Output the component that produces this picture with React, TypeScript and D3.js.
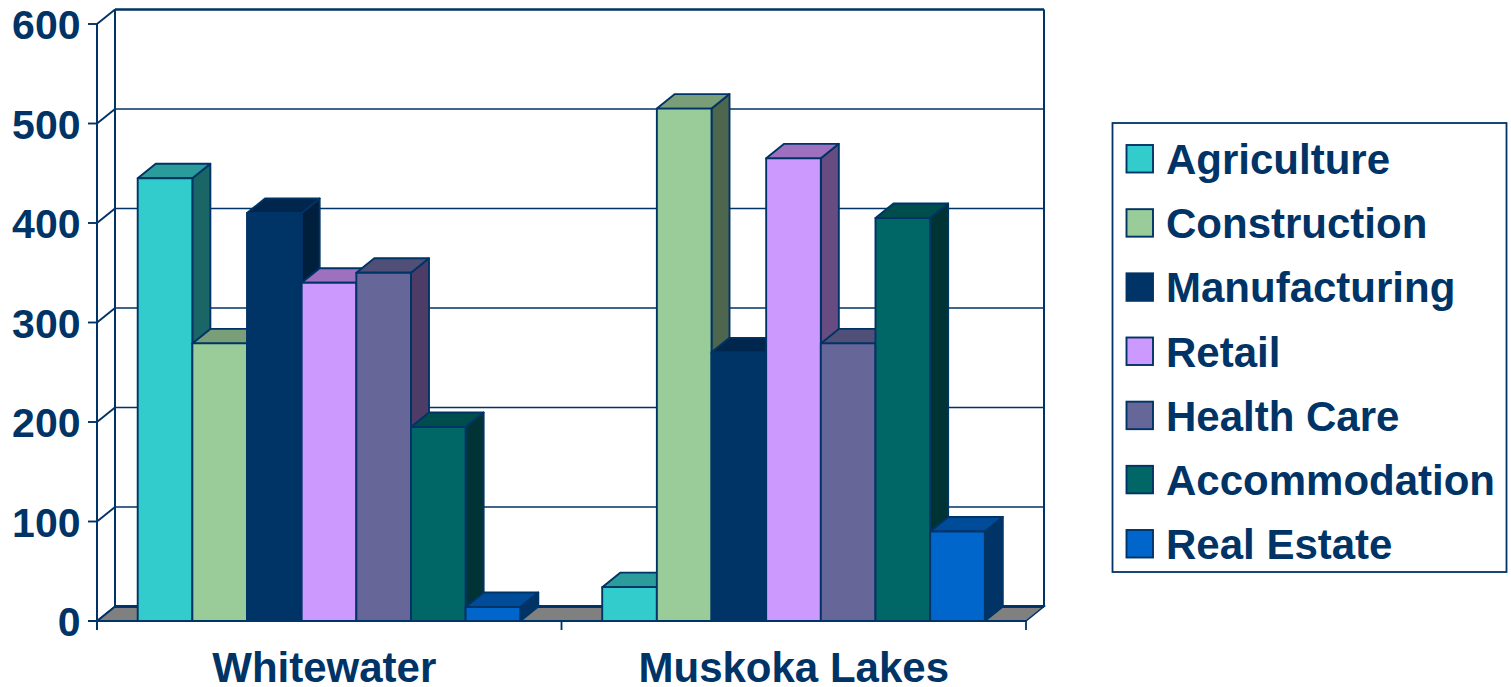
import React from "react";
import * as d3 from "d3";

const categories = ["Whitewater", "Muskoka Lakes"];
const seriesNames = ["Agriculture", "Construction", "Manufacturing", "Retail", "Health Care", "Accommodation", "Real Estate"];
const whitewater = [445, 279, 410, 340, 350, 195, 14];
const muskoka = [34, 515, 270, 465, 279, 405, 90];
const tickValues = [0, 100, 200, 300, 400, 500, 600];
const frontColors = ["#33CCCC", "#99CC99", "#003366", "#CC99FF", "#666699", "#006666", "#0066CC"];
const topColors = ["#2A9C9C", "#7A9F78", "#00264D", "#9E70C0", "#4F4F78", "#004D4D", "#004C99"];
const sideColors = ["#1A6666", "#4D664D", "#001F3D", "#664C80", "#4D3D66", "#003333", "#003366"];

const INK = "#003366";
const FONT = "'Liberation Sans', Arial, sans-serif";
const dx = 18;
const dy = -14.5;

const x0 = d3.scaleBand<string>().domain(categories).range([97, 1026]).paddingInner(0).paddingOuter(0);
const y = d3.scaleLinear().domain([0, 600]).range([621, 24]);
const inner = d3.scaleBand<string>().domain(seriesNames).range([40.7, 464.5 - 41.2]);

const poly = (pts: [number, number][]) => pts.map((p) => p.join(",")).join(" ");

export default function App() {
  const rows = [whitewater, muskoka];
  const base = y(0);
  const left = x0.range()[0];
  const right = x0.range()[1];
  const legendY = d3.scalePoint<string>().domain(seriesNames).range([159, 544]);
  return (
    <svg width={1511} height={687} style={{ position: "absolute", left: 0, top: 0, display: "block", background: "#fff" }} fontFamily={FONT}>
      {/* floor */}
      <polygon points={poly([[left, base], [left + dx, base + dy], [right + dx, base + dy], [right, base]])} fill="#808080" stroke={INK} strokeWidth={1.5} />
      {/* back wall */}
      {tickValues.map((t) => (
        <g key={t} stroke={INK} fill="none">
          {t > 0 && t < 600 && <line x1={left + dx} x2={right + dx} y1={y(t) + dy} y2={y(t) + dy} strokeWidth={1.7} />}
          <line x1={left} y1={y(t)} x2={left + dx} y2={y(t) + dy} strokeWidth={1.9} />
          <line x1={left - 9} x2={left} y1={y(t)} y2={y(t)} strokeWidth={1.9} />
        </g>
      ))}
      <line x1={left + dx} x2={right + dx} y1={y(600) + dy} y2={y(600) + dy} stroke={INK} strokeWidth={2.4} />
      <line x1={left + dx} x2={right + dx} y1={base + dy} y2={base + dy} stroke={INK} strokeWidth={3} />
      <line x1={left + dx} x2={left + dx} y1={y(600) + dy} y2={base + dy} stroke={INK} strokeWidth={2} />
      <line x1={right + dx} x2={right + dx} y1={y(600) + dy} y2={base + dy} stroke={INK} strokeWidth={2} />
      <line x1={left} x2={left} y1={y(600)} y2={base + 9} stroke={INK} strokeWidth={2} />
      <line x1={left - 9} x2={right} y1={base} y2={base} stroke={INK} strokeWidth={2} />
      {[left, left + x0.bandwidth(), right].map((v, i) => (
        <line key={i} x1={v} x2={v} y1={base} y2={base + 9} stroke={INK} strokeWidth={1.8} />
      ))}
      {/* bars */}
      {categories.map((c, ci) =>
        seriesNames.map((s, si) => {
          const xa = (x0(c) as number) + (inner(s) as number);
          const xb = xa + inner.bandwidth();
          const yt = y(rows[ci][si]);
          return (
            <g key={c + s} stroke={INK} strokeWidth={1.9} strokeLinejoin="round">
              <polygon points={poly([[xb, yt], [xb + dx, yt + dy], [xb + dx, base + dy], [xb, base]])} fill={sideColors[si]} />
              <polygon points={poly([[xa, yt], [xa + dx, yt + dy], [xb + dx, yt + dy], [xb, yt]])} fill={topColors[si]} />
              <rect x={xa} y={yt} width={xb - xa} height={base - yt} fill={frontColors[si]} />
            </g>
          );
        })
      )}
      {/* tick labels */}
      {tickValues.map((t) => (
        <text key={t} x={80.5} y={y(t) + 15} textAnchor="end" fontSize={41} fontWeight={700} fill={INK}>{t}</text>
      ))}
      {categories.map((c) => (
        <text key={c} x={(x0(c) as number) + x0.bandwidth() / 2 + (c === categories[0] ? -5 : 0)} y={682} textAnchor="middle" fontSize={42} fontWeight={700} fill={INK}>{c}</text>
      ))}
      {/* legend */}
      <rect x={1112.5} y={123} width={394} height={449} fill="#fff" stroke={INK} strokeWidth={1.8} />
      {seriesNames.map((s, i) => {
        const ly = legendY(s) as number;
        return (
          <g key={s}>
            <rect x={1126.5} y={ly - 14} width={26.5} height={27.5} fill={frontColors[i]} stroke={INK} strokeWidth={1.9} />
            <text x={1166} y={ly + 15} fontSize={42} fontWeight={700} fill={INK}>{s}</text>
          </g>
        );
      })}
    </svg>
  );
}
